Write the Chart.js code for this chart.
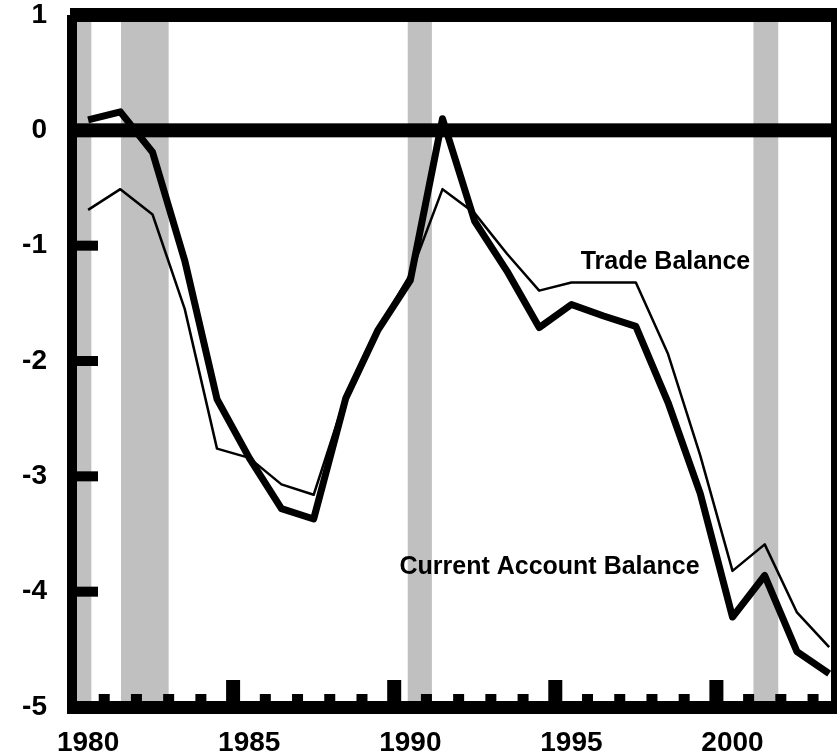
<!DOCTYPE html>
<html>
<head>
<meta charset="utf-8">
<title>Current Account and Trade Balance</title>
<script src="https://cdn.jsdelivr.net/npm/chart.js@4.4.1/dist/chart.umd.min.js"></script>
<style>
  html, body { margin: 0; padding: 0; background: #fff; }
  #wrap { width: 837px; height: 754px; }
</style>
</head>
<body>
<div id="wrap"><canvas id="chart"></canvas></div>
<script>
// Annual values, percent of GDP
const years = [1980, 1981, 1982, 1983, 1984, 1985, 1986, 1987, 1988, 1989, 1990, 1991,
               1992, 1993, 1994, 1995, 1996, 1997, 1998, 1999, 2000, 2001, 2002, 2003];
const currentAccount = [0.09, 0.16, -0.19, -1.13, -2.33, -2.84, -3.28, -3.37, -2.32, -1.73, -1.30, 0.10,
                        -0.79, -1.22, -1.71, -1.51, -1.61, -1.70, -2.36, -3.15, -4.22, -3.86, -4.52, -4.71];
const tradeBalance = [-0.69, -0.51, -0.73, -1.55, -2.76, -2.84, -3.07, -3.16, -2.30, -1.72, -1.25, -0.51,
                      -0.72, -1.07, -1.39, -1.32, -1.32, -1.32, -1.94, -2.82, -3.82, -3.59, -4.18, -4.48];

// Recessions (start, end as fractional years)
const recessions = [[1980.0, 1980.6], [1981.52, 1983.0], [1990.42, 1991.17], [2001.15, 2001.92]];

// Tick labels
const xLabelYears = [1980, 1985, 1990, 1995, 2000];
const yTickMarks = [-1, -2, -3, -4];

// Line labels
const lineLabels = [
    { text: 'Trade Balance', x: 1998.42, y: -1.14 },
    { text: 'Current Account Balance', x: 1994.82, y: -3.79 }
];

const labelFont = { family: '"Liberation Sans", Arial, sans-serif', size: 28, weight: 'bold' };

// Shading, frame, tick marks and the line labels
const framePlugin = {
    id: 'framePlugin',
    beforeDatasetsDraw(chart) {
        const { ctx, chartArea: a, scales: { x } } = chart;
        ctx.save();
        ctx.fillStyle = '#c0c0c0';
        recessions.forEach(([s, e]) => {
            const x0 = Math.max(x.getPixelForValue(s), a.left);
            const x1 = x.getPixelForValue(e);
            ctx.fillRect(x0, a.top, x1 - x0, a.bottom - a.top);
        });
        ctx.restore();
    },
    afterDatasetsDraw(chart) {
        const { ctx, chartArea: a, scales: { x, y }, width } = chart;
        ctx.save();
        ctx.fillStyle = '#000';

        // frame
        ctx.fillRect(a.left - 2, a.top - 7, width - a.left + 2, 14);   // top
        ctx.fillRect(a.left - 5, a.top, 10, a.bottom - a.top + 7);     // left
        ctx.fillRect(a.left - 5, a.bottom - 6, width - a.left + 5, 13); // bottom
        ctx.fillRect(a.right - 3, a.top, width - a.right + 3, a.bottom - a.top); // right

        // zero line
        const y0 = y.getPixelForValue(0);
        ctx.fillRect(a.left, y0 - 7, width - a.left, 14);

        // y tick marks
        yTickMarks.forEach(v => {
            const py = y.getPixelForValue(v);
            ctx.fillRect(a.left, py - 5, 26, 10);
        });

        // x tick marks, taller every five years
        for (let yr = 1981; yr <= 2003; yr++) {
            const px = x.getPixelForValue(yr);
            if (yr % 5 === 0) ctx.fillRect(px - 7, a.bottom - 27, 14, 21);
            else ctx.fillRect(px - 5.5, a.bottom - 13, 11, 7);
        }

        // line labels
        ctx.font = 'bold 25px "Liberation Sans", Arial, sans-serif';
        ctx.textAlign = 'center';
        ctx.textBaseline = 'middle';
        lineLabels.forEach(l => {
            ctx.fillText(l.text, x.getPixelForValue(l.x), y.getPixelForValue(l.y));
        });
        ctx.restore();
    }
};

const ctx = document.getElementById('chart').getContext('2d');

new Chart(ctx, {
    type: 'line',
    data: {
        datasets: [{
            label: 'Current Account Balance',
            data: years.map((yr, i) => ({ x: yr + 0.5, y: currentAccount[i] })),
            borderColor: '#000',
            borderWidth: 7,
            pointRadius: 0,
            tension: 0,
            borderJoinStyle: 'round'
        }, {
            label: 'Trade Balance',
            data: years.map((yr, i) => ({ x: yr + 0.5, y: tradeBalance[i] })),
            borderColor: '#000',
            borderWidth: 2.5,
            pointRadius: 0,
            tension: 0,
            borderJoinStyle: 'round'
        }]
    },
    options: {
        responsive: true,
        maintainAspectRatio: false,
        animation: false,
        layout: { padding: { top: 15, right: 3, left: 0, bottom: 0 } },
        plugins: {
            legend: { display: false },
            tooltip: { enabled: false }
        },
        scales: {
            x: {
                type: 'linear',
                min: 1980,
                max: 2003.65,
                grid: { display: false },
                border: { display: false },
                afterBuildTicks: s => { s.ticks = xLabelYears.map(v => ({ value: v + 0.5 })); },
                afterFit: s => { s.height = 47; s.paddingLeft = 0; s.paddingRight = 0; },
                ticks: {
                    callback: v => String(Math.floor(v)),
                    font: labelFont,
                    color: '#000',
                    padding: 11,
                    maxRotation: 0,
                    autoSkip: false
                }
            },
            y: {
                min: -5,
                max: 1,
                grid: { display: false },
                border: { display: false },
                afterFit: s => { s.width = 72; s.paddingTop = 0; s.paddingBottom = 0; },
                ticks: {
                    stepSize: 1,
                    callback: v => String(v),
                    font: labelFont,
                    color: '#000',
                    padding: 17
                }
            }
        }
    },
    plugins: [framePlugin]
});
</script>
</body>
</html>
